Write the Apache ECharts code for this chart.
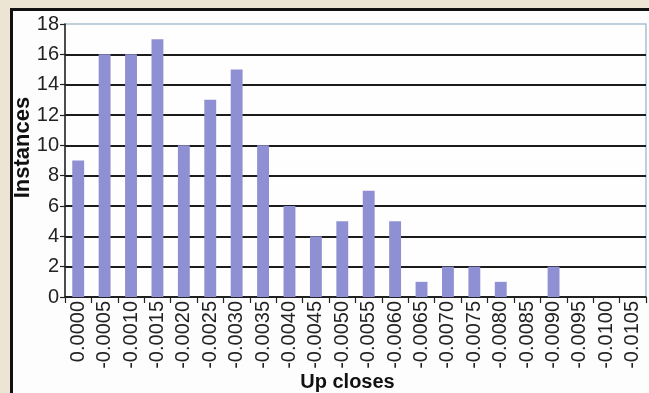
<!DOCTYPE html>
<html>
<head>
<meta charset="utf-8">
<script src="https://cdn.jsdelivr.net/npm/echarts@6/dist/echarts.min.js"></script>
<style>
  html, body { margin: 0; padding: 0; background: #ece5d3; }
  #chart { width: 649px; height: 393px; }
</style>
</head>
<body>
<div id="chart"></div>
<script>
// Histogram of up-close sizes
const categories = ['0.0000', '-0.0005', '-0.0010', '-0.0015', '-0.0020', '-0.0025', '-0.0030',
  '-0.0035', '-0.0040', '-0.0045', '-0.0050', '-0.0055', '-0.0060', '-0.0065', '-0.0070',
  '-0.0075', '-0.0080', '-0.0085', '-0.0090', '-0.0095', '-0.0100', '-0.0105'];
const instances = [9, 16, 16, 17, 10, 13, 15, 10, 6, 4, 5, 7, 5, 1, 2, 2, 1, 0, 2, 0, 0, 0];
const xTitle = 'Up closes';
const yTitle = 'Instances';

const font = 'Liberation Sans, Arial, sans-serif';
const chart = echarts.init(document.getElementById('chart'), null, { renderer: 'canvas' });

chart.setOption({
  backgroundColor: '#ece5d3',
  animation: false,
  graphic: [{
    type: 'rect',
    z: -10,
    shape: { x: 11.5, y: 9.5, width: 700, height: 500 },
    style: { fill: '#fdfdfe', stroke: '#111', lineWidth: 3 }
  }],
  grid: {
    left: 65, right: 3, top: 24, bottom: 96,
    outerBoundsMode: 'none',
    containLabel: false,
    show: true, backgroundColor: '#fefeff',
    borderColor: '#a9c0cf', borderWidth: 1.5
  },
  xAxis: {
    type: 'category',
    data: categories,
    name: xTitle,
    nameLocation: 'middle',
    nameGap: 75,
    nameMoveOverlap: false,
    nameTextStyle: { fontFamily: font, fontWeight: 'bold', fontSize: 20, color: '#111', padding: [0, 16, 0, 0] },
    axisLine: { lineStyle: { color: '#222', width: 1.5 } },
    axisTick: { show: true, length: 6, lineStyle: { color: '#222', width: 1.2 } },
    axisLabel: { rotate: 90, margin: 4, fontFamily: font, fontSize: 20, color: '#222', interval: 0 }
  },
  yAxis: {
    type: 'value',
    min: 0, max: 18, interval: 2,
    name: yTitle,
    nameLocation: 'middle',
    nameGap: 31,
    nameRotate: 90,
    nameMoveOverlap: false,
    nameTextStyle: { fontFamily: font, fontWeight: 'bold', fontSize: 22, color: '#111', padding: [0, 0, 0, 26] },
    axisLine: { show: true, lineStyle: { color: '#222', width: 1.5 } },
    axisTick: { show: true, length: 5, lineStyle: { color: '#222', width: 1.2 } },
    axisLabel: { margin: 6, fontFamily: font, fontSize: 20, color: '#222' },
    splitLine: { show: true, showMaxLine: false, lineStyle: { color: '#1c1c1c', width: 2 } }
  },
  series: [{
    type: 'bar',
    data: instances,
    barWidth: '45%',
    itemStyle: { color: '#8f8fd3' }
  }]
});
</script>
</body>
</html>
